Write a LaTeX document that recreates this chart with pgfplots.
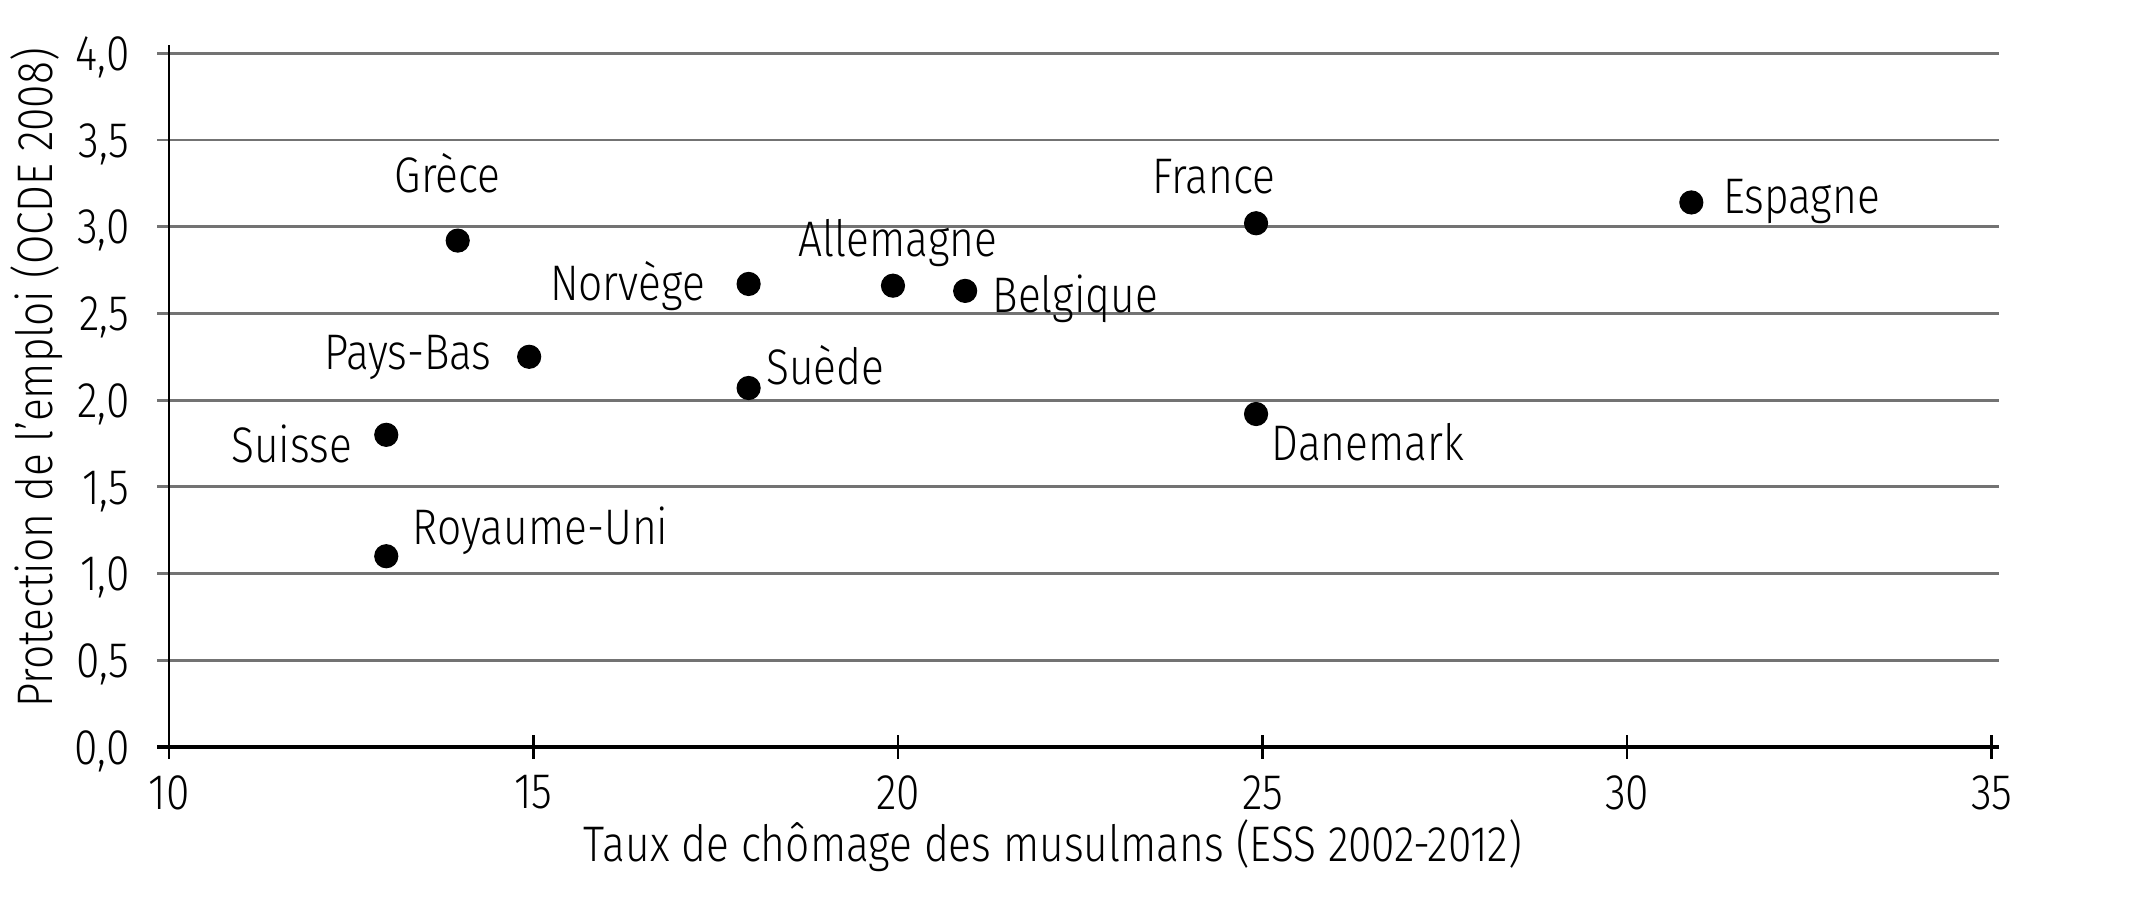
\documentclass[border=0pt]{standalone}
\usepackage{fontspec}
\setmainfont{Fira Sans Light}[FakeStretch=0.85]
\usepackage{pgfplots}
\pgfplotsset{compat=1.18}
\definecolor{gridgray}{RGB}{115,115,115}
\tikzset{lbl/.style={inner sep=0pt, font=\fontsize{18}{21.6}\selectfont}}
\begin{document}
\begin{tikzpicture}
\begin{axis}[
  scale only axis, width=658.8pt, height=252.72pt,
  xmin=10, xmax=35.1, ymin=0, ymax=4.048,
  axis lines=left, axis line style={-},
  x axis line style={line width=1.1pt, shorten <=-4.3pt},
  y axis line style={line width=0.9pt},
  xtick={10,15,...,35}, ytick={0,0.5,...,4},
  tick align=center, major tick length=8.6pt,
  xtick style={black, line width=0.9pt},
  ytick style={gridgray, line width=1pt},
  ymajorgrids, major grid style={gridgray, line width=1pt},
  font=\fontsize{18}{21.6}\selectfont,
  tick label style={font=\fontsize{18}{21.6}\selectfont},
  /pgf/number format/assume math mode=true,
  yticklabel style={/pgf/number format/.cd, fixed, fixed zerofill, precision=1, use comma, /tikz/.cd, anchor=base east, inner sep=0pt, xshift=-9.7pt, yshift=-6.2pt},
  xticklabel style={anchor=north, inner sep=0pt, yshift=-5.8pt},
  xlabel={Taux de chômage des musulmans (ESS 2002-2012)},
  ylabel={Protection de l'emploi (OCDE 2008)},
  xlabel style={at={(axis description cs:0.483,-0.1638)}, anchor=base, inner sep=0pt},
  ylabel style={at={(axis description cs:-0.0639,0.526)}, anchor=base, inner sep=0pt},
  clip=false,
]
\addplot[only marks, mark=*, mark size=4.15pt, black] coordinates {
  (12.98,1.80) (12.98,1.10) (13.96,2.92) (14.94,2.25) (17.95,2.67)
  (17.95,2.07) (19.93,2.66) (20.92,2.63) (24.91,3.02) (24.91,1.92) (30.88,3.14)
};
\node[lbl, anchor=base east, xshift=-12.2pt, yshift=-10.1pt] at (axis cs:12.98,1.80) {Suisse};
\node[lbl, anchor=base west, xshift=9.4pt, yshift=4.3pt] at (axis cs:12.98,1.10) {Royaume-Uni};
\node[lbl, anchor=base, xshift=-3.6pt, yshift=17.3pt] at (axis cs:13.96,2.92) {Grèce};
\node[lbl, anchor=base east, xshift=-13.3pt, yshift=-4.7pt] at (axis cs:14.94,2.25) {Pays-Bas};
\node[lbl, anchor=base east, xshift=-15.5pt, yshift=-5.8pt] at (axis cs:17.95,2.67) {Norvège};
\node[lbl, anchor=base west, xshift=6.1pt, yshift=1.4pt] at (axis cs:17.95,2.07) {Suède};
\node[lbl, anchor=base, xshift=1.8pt, yshift=10.4pt] at (axis cs:19.93,2.66) {Allemagne};
\node[lbl, anchor=base west, xshift=9.7pt, yshift=-7.9pt] at (axis cs:20.92,2.63) {Belgique};
\node[lbl, anchor=base, xshift=-15.1pt, yshift=10.8pt] at (axis cs:24.91,3.02) {France};
\node[lbl, anchor=base west, xshift=5.4pt, yshift=-16.6pt] at (axis cs:24.91,1.92) {Danemark};
\node[lbl, anchor=base west, xshift=11.2pt, yshift=-3.8pt] at (axis cs:30.88,3.14) {Espagne};
\end{axis}
\path ([xshift=-60.84pt,yshift=-62.28pt]current axis.south west) rectangle ++(774pt,331.2pt);
\end{tikzpicture}
\end{document}
